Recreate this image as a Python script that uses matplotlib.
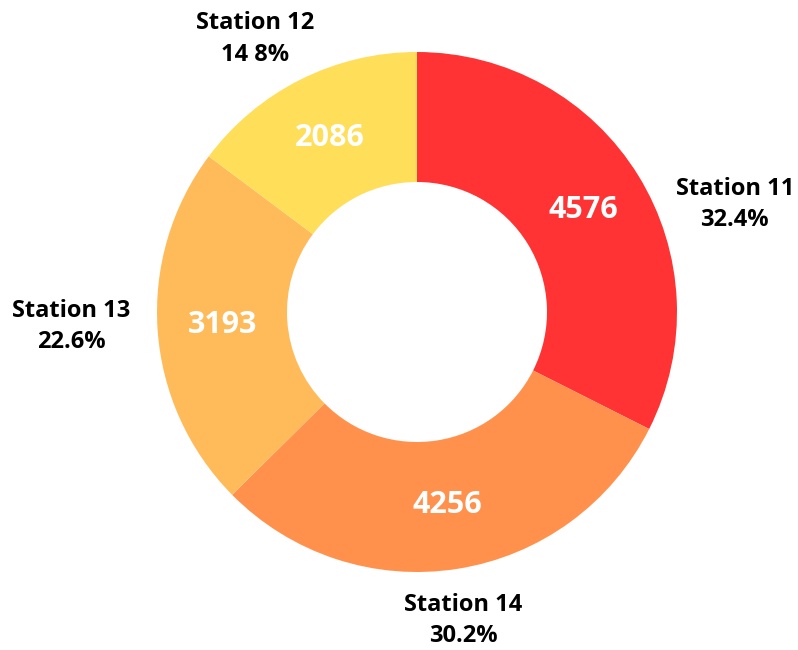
import numpy as np
import matplotlib
matplotlib.use("Agg")
import matplotlib.pyplot as plt

# data
stations = ["Station 11", "Station 14", "Station 13", "Station 12"]
values = [4576, 4256, 3193, 2086]
pct_labels = ["32.4%", "30.2%", "22.6%", "14 8%"]
colors = ["#FF3333", "#FF914D", "#FFBB5A", "#FFDE59"]

plt.rcParams['font.family'] = ['Open Sans', 'DejaVu Sans']

fig = plt.figure(figsize=(7.98, 6.5), dpi=100)
ax = fig.add_axes([0, 0, 1, 1])

wedges, _ = ax.pie(values, colors=colors, startangle=90, counterclock=False,
                   radius=1.0, wedgeprops=dict(width=0.5, linewidth=0))

ax.set_aspect('equal')
ax.set_xlim(-417 / 260, (798 - 417) / 260)
ax.set_ylim(-338 / 260, 312 / 260)
ax.axis('off')

# outer label placement (angle offset in degrees, radius)
ang_shift = [-13, -0.5, -1.5, 4]
lab_r = [1.29, 1.2, 1.33, 1.22]

for w, v, name, pct, sh, r in zip(wedges, values, stations, pct_labels, ang_shift, lab_r):
    mid = np.deg2rad((w.theta1 + w.theta2) / 2)
    # value inside the ring
    ax.text(0.75 * np.cos(mid), 0.75 * np.sin(mid), str(v), color='white',
            fontsize=22, fontweight='bold', ha='center', va='center')
    # outer label
    a = mid + np.deg2rad(sh)
    ax.text(r * np.cos(a), r * np.sin(a), name + "\n" + pct, color='black',
            fontsize=17, fontweight='bold', ha='center', va='center',
            linespacing=1.4)

fig.savefig("out.png", dpi=100)
